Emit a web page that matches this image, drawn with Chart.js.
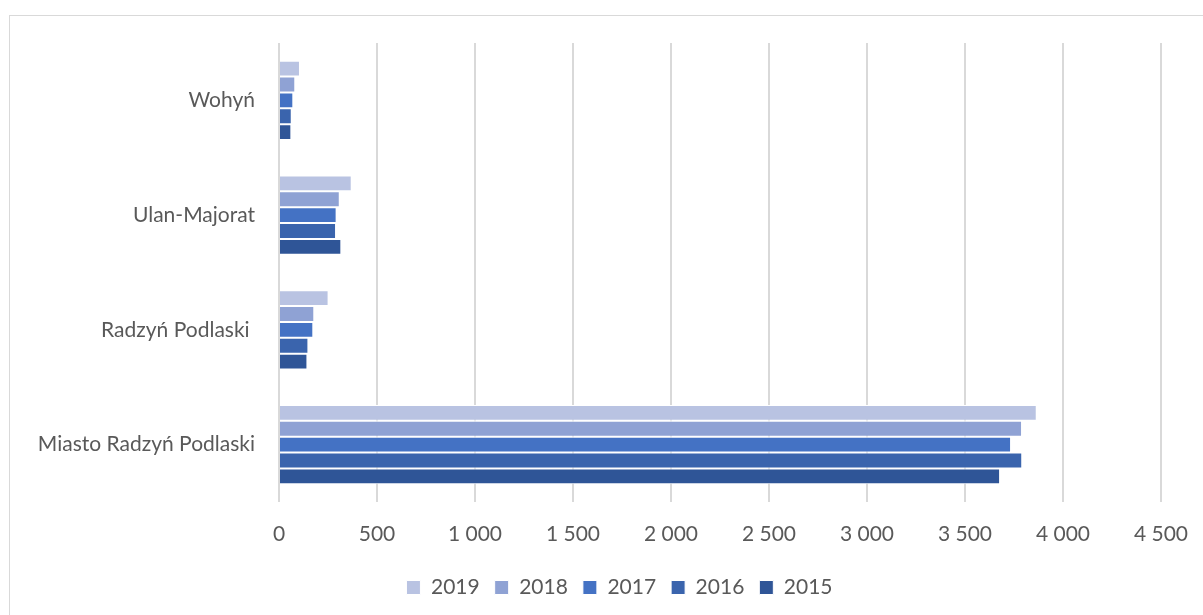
<!DOCTYPE html>
<html>
<head>
<meta charset="utf-8">
<script src="https://cdn.jsdelivr.net/npm/chart.js@4"></script>
<style>
  html, body { margin: 0; padding: 0; background: #fff; }
  #frame { position: absolute; left: 9px; top: 15px; width: 1210px; height: 620px; border: 1px solid #d9d9d9; }
  #wrap { position: absolute; left: 0; top: 0; width: 1203px; height: 615px; }
</style>
</head>
<body>
<div id="frame"></div>
<div id="wrap"><canvas id="c" width="1203" height="615"></canvas></div>
<script>
// gminy (top to bottom)
const places = ['Wohyń', 'Ulan-Majorat', 'Radzyń Podlaski ', 'Miasto Radzyń Podlaski']
const years = ['2019', '2018', '2017', '2016', '2015']

// values, per year
const v2019 = [107, 371, 253, 3866]
const v2018 = [83, 310, 180, 3791]
const v2017 = [73, 294, 175, 3735]
const v2016 = [65, 291, 150, 3792]
const v2015 = [63, 318, 145, 3679]

const colors = ['#b9c3e2', '#8fa2d4', '#4472c4', '#3a64ad', '#2f5597']

const series = [v2019, v2018, v2017, v2016, v2015]
const fontFam = 'Lato, "Open Sans", sans-serif'
const fontSize = 21

// legend in the original sits a bit right of the canvas centre
const shiftLegend = {
  id: 'shiftLegend',
  afterLayout(chart) {
    chart.legend.left += 39
    chart.legend.right += 39
  }
}

new Chart(document.getElementById('c'), {
  type: 'bar',
  data: {
    labels: places,
    datasets: series.map((d, i) => ({
      label: years[i],
      data: d,
      backgroundColor: colors[i],
      borderColor: '#ffffff',
      borderWidth: 1,
      categoryPercentage: 0.69,
      barPercentage: 1
    }))
  },
  options: {
    indexAxis: 'y',
    responsive: false,
    animation: false,
    devicePixelRatio: 1,
    layout: { padding: { top: 43, right: 42, bottom: 7, left: 0 } },
    scales: {
      x: {
        min: 0,
        max: 4500,
        ticks: {
          stepSize: 500,
          padding: 20,
          color: '#595959',
          font: { family: fontFam, size: fontSize },
          callback: v => v >= 1000 ? Math.floor(v / 1000) + ' ' + String(v % 1000).padStart(3, '0') : String(v)
        },
        grid: { color: '#d9d9d9', lineWidth: 2, drawTicks: false },
        border: { display: false },
        afterFit: s => { s.height = 60; s.paddingRight = 0 }
      },
      y: {
        ticks: {
          padding: 16,
          color: '#595959',
          font: { family: fontFam, size: fontSize }
        },
        grid: { display: false },
        border: { display: false },
        afterFit: s => { s.width = 279 }
      }
    },
    plugins: {
      legend: {
        position: 'bottom',
        labels: {
          boxWidth: 14,
          boxHeight: 14,
          padding: 15,
          color: '#595959',
          font: { family: fontFam, size: fontSize }
        }
      },
      tooltip: { enabled: false }
    }
  },
  plugins: [shiftLegend]
})
</script>
</body>
</html>
